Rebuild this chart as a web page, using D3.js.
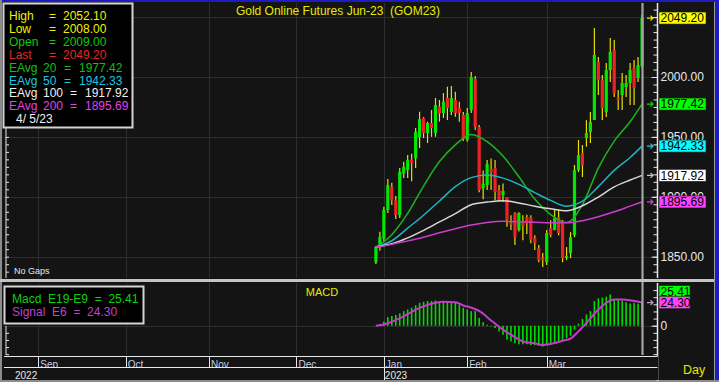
<!DOCTYPE html>
<html>
<head>
<meta charset="utf-8">
<script src="https://cdn.jsdelivr.net/npm/d3@7"></script>
<style>
	body { margin: 0; background: #141414; }
	svg { display: block; font-family: "Liberation Sans", Arial, sans-serif; }
</style>
</head>
<body>
<div id="chart"></div>
<script>
/*
=====================================================
=========	DATA	=========
=====================================================
*/

// trading-day number of the first bar (Sep 1 2022 = day 0)
var firstBarDay = 85;

// daily bars, Dec 29 2022 -> Apr 5 2023
var barOpen = [1845.3,1858.8,1865.2,1888.9,1908.4,1897.2,1884.7,1919.6,1922.3,1931,
	1932.1,1949.9,1965.7,1953.2,1961.6,1953.2,1975.2,1969.9,1982.5,1970.8,
	1980.8,1974.1,1968.3,1947.4,1972.4,1998.3,1958.2,1907,1909.8,1923,
	1924,1905.6,1901.4,1899.7,1878.4,1886.4,1872.2,1879.7,1883,1883,
	1865.5,1857.1,1848.8,1845.4,1873.9,1872.2,1883,1878,1848.8,1853,
	1868,1922.3,1936.5,1949,1954,1964.1,2012.5,1997.5,1970.8,2005.8,
	2022.6,1982.5,1985,1991.6,1995,2007.5,1999.2,2009];
var barHigh = [1859,1870.8,1891.6,1914.8,1911.7,1900.6,1924,1929.2,1934.8,1936,
	1957.4,1971,1966.5,1962.7,1972.4,1982.5,1980.8,1986.6,1991.9,1992.5,
	1987.7,1979.4,1970.8,1974.1,2004.2,2000.8,1959.9,1922,1930.7,1932,
	1930.7,1909.8,1911,1899.7,1884.7,1887,1887,1884.7,1885,1884.7,
	1868,1859.7,1853,1872.2,1880.5,1888.9,1888.9,1880.5,1858,1870.5,
	1926.5,1947.4,1943.2,1964,1970.8,2040.9,2016.7,2001.7,2011.7,2032.6,
	2030.9,1989.1,2003.3,2001.7,2011.7,2014.2,2016.7,2052.1];
var barLow = [1844,1854.9,1862.4,1886.4,1893.1,1881.4,1882.2,1915.6,1915.6,1913,
	1924,1940.7,1949,1944.9,1950.1,1950.1,1962.7,1965.8,1964.1,1968.3,
	1966.8,1962.7,1946.5,1945.9,1969.9,1955.7,1903.9,1898,1905.6,1905.6,
	1897.2,1896,1895.6,1875,1872.2,1859.7,1871,1863.8,1869,1861.3,
	1855.5,1845.4,1841.3,1843,1866.3,1872,1868,1845.4,1847.1,1848.8,
	1866.3,1920.6,1916.5,1941.8,1944.9,1964.1,1985,1964.1,1966.6,1995.8,
	1983.3,1972.4,1972.4,1983.3,1976.6,1976.6,1995.8,2008];
var barClose = [1858.2,1866.6,1888.9,1909.8,1897.2,1884.7,1920.9,1925.1,1930.7,1928,
	1954.3,1964.9,1953.2,1961.6,1957.4,1976.6,1969.7,1979.4,1974.1,1982.5,
	1969.9,1969.9,1948.2,1969.9,2000,1958.2,1905.6,1911,1927.3,1920.5,
	1904,1897.2,1904.8,1880.5,1876.9,1866.3,1886.4,1875.5,1878,1863.8,
	1861.3,1847.1,1847.1,1869.7,1868,1882.2,1869.7,1848.8,1850.5,1866.3,
	1922.3,1934.8,1926.5,1953.2,1962.4,2018.4,1997.5,1974.1,2005.8,2020.9,
	1986.6,1980.8,1995,1995,2005.8,1990.8,2010,2049.2];

// exponential averages (bar number -> value)
var emaBars = [0,4,8,12,16,20,24,28,32,36,40,44,48,52,56,60,64,67];
var ema20  = [1858,1868.4,1886.1,1908.9,1929.4,1943.4,1952.1,1946.1,1934,1916.7,1898.1,1885.2,1878.5,1893.5,1924,1946.5,1962.7,1977.42];
var ema50  = [1858,1863.3,1873.8,1884.6,1896.5,1908.5,1916,1918.1,1915.6,1910.4,1903.5,1897,1892.2,1896.4,1908.5,1922.1,1932.8,1942.33];
var ema100 = [1858,1860.8,1865.7,1872,1879,1885.9,1893.4,1895.6,1896.8,1894.9,1892.2,1890,1888.3,1892.5,1899.8,1908.3,1914,1917.92];
var ema200 = [1858,1860.3,1863.2,1866.2,1870,1873.4,1876.4,1878.6,1879.5,1879.2,1878.8,1878.3,1878.3,1880.1,1883.4,1887.5,1892.2,1895.69];

// MACD E19-E9, one value per bar
var macdValues = [0.3,1.5,4.5,9,10.2,11.3,13,15.3,17.1,18.9,
	21.5,24.2,25.2,25.9,25.9,26.6,25.9,25.9,25.9,25.2,
	24.1,22.4,18.8,17,15.3,15.3,8.2,3.6,1.1,-0.7,
	-2.5,-6,-9.5,-14.9,-16.6,-18.4,-19.5,-19.5,-19.5,-20.2,
	-20.5,-21.2,-21.9,-20.2,-20.2,-18.4,-16.6,-14.9,-13.1,-10.6,
	-4.2,2.2,7.2,11.8,15.3,25.9,28.8,29.5,30.5,33,
	27.7,27,25.9,24.8,23.4,23.8,23.2,25.41];

// Signal E6
var signalBars   = [0,2,7,11,15,17,20,22,24,26,29,32,35,37,40,42,45,47,49,51,53,56,58,60,62,65,67];
var signalValues = [0,1.3,9.9,18.8,24.1,25.2,24.8,21.3,19,15.5,5.5,-4.2,-12,-16.6,-18.6,-20.2,-18.2,-15.9,-13.5,-6,2.8,17,24.1,27.7,27.7,25.9,24.3];

var monthNames = ["Sep", "Oct", "Nov", "Dec", "Jan", "Feb", "Mar"];
var monthDays  = [0, 22, 43, 65, 87, 108, 128];
var yearNames  = ["2022", "2023"];
var yearDays   = [null, 87];
var priceTicks = [1850, 1900, 1950, 2000, 2050];
var lastDate = "4/ 5/23";

/*
=====================================================
=========	LAYOUT / SCALES	=========
=====================================================
*/

var	SVGwidth = 719,
	SVGheight = 382,
	mainTop = 3, mainBottom = 278,
	macdTop = 283, macdBottom = 355,
	plotLeft = 3, axisX = 657.5, cursorX = 642.5;

var fmt = d3.format(".2f");

var bars = barOpen.map(function(o, i) {
	return {day: firstBarDay + i, open: o, high: barHigh[i], low: barLow[i], close: barClose[i], macd: macdValues[i]};
});

var x = d3.scaleLinear()
	.domain([0, 128])
	.range([38.3, 546.7]);

var y = d3.scaleLinear()
	.domain([1850, 2000])
	.range([256.7, 77]);

var yMacd = d3.scaleLinear()
	.domain([0, 25.41])
	.range([325.7, 301.56]);

var svg = d3.select('div#chart')
	.append('svg')
	.attr('width', SVGwidth)
	.attr('height', SVGheight);

svg.append("rect").attr("width", SVGwidth).attr("height", SVGheight).attr("fill", "#141414");

// frame
svg.append("rect").attr("x", 0).attr("y", 0).attr("width", SVGwidth).attr("height", 2).attr("fill", "#1c1cc0");
svg.append("rect").attr("x", 715).attr("y", 0).attr("width", 4).attr("height", SVGheight).attr("fill", "#1c1cc0");
svg.append("rect").attr("x", 714).attr("y", 2).attr("width", 1).attr("height", SVGheight).attr("fill", "#9a9a9a");
svg.append("rect").attr("x", 0).attr("y", 0).attr("width", 2).attr("height", SVGheight).attr("fill", "#8c8c8c");
svg.append("rect").attr("x", 0).attr("y", 380).attr("width", SVGwidth).attr("height", 2).attr("fill", "#8c8c8c");

/*
=====================================================
=========	GRID	=========
=====================================================
*/

var grid = svg.append("g").attr("stroke", "#2e2e2e").attr("stroke-width", 1);

grid.selectAll("line.h").data(priceTicks).enter().append("line")
	.attr("x1", plotLeft).attr("x2", axisX)
	.attr("y1", function(d) { return Math.round(y(d)) + 0.5; })
	.attr("y2", function(d) { return Math.round(y(d)) + 0.5; });

grid.selectAll("line.v").data(monthDays).enter().append("line")
	.attr("x1", function(d) { return Math.round(x(d)) + 0.5; })
	.attr("x2", function(d) { return Math.round(x(d)) + 0.5; })
	.attr("y1", mainTop).attr("y2", mainBottom);

grid.selectAll("line.vm").data(monthDays).enter().append("line")
	.attr("x1", function(d) { return Math.round(x(d)) + 0.5; })
	.attr("x2", function(d) { return Math.round(x(d)) + 0.5; })
	.attr("y1", macdTop).attr("y2", macdBottom);

grid.append("line")
	.attr("x1", plotLeft).attr("x2", axisX)
	.attr("y1", Math.round(yMacd(0)) + 0.5).attr("y2", Math.round(yMacd(0)) + 0.5);

/*
=====================================================
=========	CANDLES + AVERAGES	=========
=====================================================
*/

var candles = svg.append("g");

candles.selectAll("line.wick")
	.data(bars)
	.enter()
	.append("line")
	.attr("x1", function(d) { return x(d.day); })
	.attr("x2", function(d) { return x(d.day); })
	.attr("y1", function(d) { return y(d.high); })
	.attr("y2", function(d) { return y(d.low); })
	.attr("stroke", "#e8e000")
	.attr("stroke-width", 1.2);

candles.selectAll("rect.body")
	.data(bars)
	.enter()
	.append("rect")
	.attr("x", function(d) { return x(d.day) - 1.6; })
	.attr("width", 3.2)
	.attr("y", function(d) { return y(Math.max(d.open, d.close)); })
	.attr("height", function(d) { return Math.max(1.5, Math.abs(y(d.open) - y(d.close))); })
	.attr("fill", function(d) { return d.close >= d.open ? "#00e800" : "#ee2222"; });

var emaLine = d3.line()
	.curve(d3.curveMonotoneX)
	.x(function(d) { return x(firstBarDay + d.bar); })
	.y(function(d) { return y(d.value); });

var emaSeries = [
	{values: ema20, color: "#1cb41c"},
	{values: ema50, color: "#1fb4c4"},
	{values: ema100, color: "#d8d8d8"},
	{values: ema200, color: "#cc3ccc"}
];

emaSeries.forEach(function(s) {
	var pts = s.values.map(function(v, i) { return {bar: emaBars[i], value: v}; });
	svg.append("path")
		.datum(pts)
		.attr("fill", "none")
		.attr("stroke", s.color)
		.attr("stroke-width", 1.5)
		.attr("d", emaLine);
});

/*
=====================================================
=========	MACD PANEL	=========
=====================================================
*/

svg.append("g").selectAll("line")
	.data(bars)
	.enter()
	.append("line")
	.attr("x1", function(d) { return x(d.day); })
	.attr("x2", function(d) { return x(d.day); })
	.attr("y1", yMacd(0))
	.attr("y2", function(d) { return yMacd(d.macd); })
	.attr("stroke", "#00dc00")
	.attr("stroke-width", 1.6);

var signalLine = d3.line()
	.curve(d3.curveMonotoneX)
	.x(function(d) { return x(firstBarDay + d.bar); })
	.y(function(d) { return yMacd(d.value); });

svg.append("path")
	.datum(signalValues.map(function(v, i) { return {bar: signalBars[i], value: v}; }))
	.attr("fill", "none")
	.attr("stroke", "#c23cc8")
	.attr("stroke-width", 2)
	.attr("d", signalLine);

// cursor
svg.append("line")
	.attr("x1", cursorX).attr("x2", cursorX)
	.attr("y1", mainTop).attr("y2", macdBottom)
	.attr("stroke", "#a4a4a4").attr("stroke-width", 2.2);

// panel separator
svg.append("rect").attr("x", 0).attr("y", 279).attr("width", 714).attr("height", 3).attr("fill", "#c4c4c4");

/*
=====================================================
=========	AXES	=========
=====================================================
*/

function styleAxis(sel) {
	sel.select(".domain").remove();
	sel.selectAll("line").attr("stroke", "#e8e8e8");
	sel.selectAll("text").attr("fill", "#e8e8e8").style("font-size", "12px").style("font-family", "Liberation Sans, Arial, sans-serif");
}

svg.append("line").attr("x1", axisX).attr("x2", axisX).attr("y1", mainTop).attr("y2", mainBottom).attr("stroke", "#e8e8e8").attr("stroke-width", 1.5);
svg.append("line").attr("x1", axisX).attr("x2", axisX).attr("y1", macdTop).attr("y2", 381).attr("stroke", "#e8e8e8").attr("stroke-width", 1.5);

svg.append("g")
	.attr("transform", "translate(" + axisX + ",0)")
	.call(d3.axisRight(y).tickValues(d3.range(1837.5, 2062, 6.25)).tickSize(-4).tickFormat(""))
	.call(styleAxis);

svg.append("g")
	.attr("transform", "translate(" + axisX + ",0)")
	.call(d3.axisRight(y).tickValues(priceTicks).tickSize(-6).tickPadding(3).tickFormat(fmt))
	.call(styleAxis);

svg.append("g")
	.attr("transform", "translate(" + axisX + ",0)")
	.call(d3.axisRight(yMacd).tickValues(d3.range(-30, 45, 7.5)).tickSize(-4).tickFormat(""))
	.call(styleAxis);

svg.append("g")
	.attr("transform", "translate(" + axisX + ",0)")
	.call(d3.axisRight(yMacd).tickValues([0]).tickSize(-6).tickPadding(3).tickFormat(d3.format("d")))
	.call(styleAxis);

// left tick columns
svg.append("line").attr("x1", 6).attr("x2", 6).attr("y1", 128).attr("y2", mainBottom).attr("stroke", "#e8e8e8");
svg.append("g")
	.attr("transform", "translate(6,0)")
	.call(d3.axisLeft(y).tickValues(d3.range(1837.5, 1953, 6.25)).tickSize(-3).tickFormat(""))
	.call(styleAxis);
svg.append("line").attr("x1", 6).attr("x2", 6).attr("y1", 326).attr("y2", macdBottom).attr("stroke", "#e8e8e8");
svg.append("g")
	.attr("transform", "translate(6,0)")
	.call(d3.axisLeft(yMacd).tickValues(d3.range(-30, 0, 7.5)).tickSize(-3).tickFormat(""))
	.call(styleAxis);

// bottom time axis
var timeAxis = svg.append("g");
timeAxis.append("rect").attr("x", 2).attr("y", 356).attr("width", 656).attr("height", 24).attr("fill", "#141414");
timeAxis.append("line").attr("x1", 4).attr("x2", axisX).attr("y1", 356.5).attr("y2", 356.5).attr("stroke", "#e8e8e8");
timeAxis.append("line").attr("x1", 4).attr("x2", axisX).attr("y1", 367.5).attr("y2", 367.5).attr("stroke", "#e8e8e8");

svg.append("clipPath").attr("id", "monthClip")
	.append("rect").attr("x", 0).attr("y", 357).attr("width", 660).attr("height", 10);

timeAxis.selectAll("line.mt").data(monthDays).enter().append("line")
	.attr("x1", function(d) { return Math.round(x(d)) + 0.5; })
	.attr("x2", function(d) { return Math.round(x(d)) + 0.5; })
	.attr("y1", 356).attr("y2", 367)
	.attr("stroke", "#e8e8e8");

timeAxis.append("g").attr("clip-path", "url(#monthClip)")
	.selectAll("text").data(monthNames).enter().append("text")
	.attr("x", function(d, i) { return x(monthDays[i]) + 2; })
	.attr("y", 367.5)
	.attr("fill", "#c6cee6")
	.style("font-size", "10px")
	.text(function(d) { return d; });

timeAxis.selectAll("line.yt").data(yearDays.filter(function(d) { return d !== null; })).enter().append("line")
	.attr("x1", function(d) { return Math.round(x(d)) + 0.5; })
	.attr("x2", function(d) { return Math.round(x(d)) + 0.5; })
	.attr("y1", 367).attr("y2", 380)
	.attr("stroke", "#e8e8e8");

timeAxis.selectAll("text.year").data(yearNames).enter().append("text")
	.attr("x", function(d, i) { return yearDays[i] === null ? 15 : x(yearDays[i]) + 1; })
	.attr("y", 378.5)
	.attr("fill", "#e8e8e8")
	.style("font-size", "10px")
	.text(function(d) { return d; });

svg.append("text").attr("x", 683).attr("y", 374).attr("fill", "#e8e800").style("font-size", "12.5px").text("Day");

/*
=====================================================
=========	BADGES	=========
=====================================================
*/

function badge(yPos, label, bg, width) {
	svg.append("rect")
		.attr("x", 659).attr("y", yPos - 6).attr("width", width).attr("height", 12)
		.attr("fill", bg).attr("stroke", "#202020").attr("stroke-width", 0.6);
	svg.append("text")
		.attr("x", 660.5).attr("y", yPos).attr("dy", "0.36em")
		.attr("fill", "#000").style("font-size", "12px")
		.text(label);
}

function arrow(yPos, color) {
	svg.append("path")
		.attr("d", "M647," + yPos + "H653M650.5," + (yPos - 2.5) + "L653," + yPos + "L650.5," + (yPos + 2.5))
		.attr("fill", "none").attr("stroke", color).attr("stroke-width", 1.2);
}

var lastClose = barClose[barClose.length - 1];
var priceBadges = [
	{v: lastClose, c: "#ffff00", a: "#e8e800"},
	{v: ema20[ema20.length - 1], c: "#00ff00", a: "#00e000"},
	{v: ema50[ema50.length - 1], c: "#00ffff", a: "#20d0e0"},
	{v: ema100[ema100.length - 1], c: "#ffffff", a: "#c8c8c8"},
	{v: ema200[ema200.length - 1], c: "#ff44ff", a: "#d040d0"}
];
priceBadges.forEach(function(b) {
	arrow(y(b.v), b.a);
	badge(y(b.v), fmt(b.v), b.c, 47);
});

var lastMacd = macdValues[macdValues.length - 1];
var lastSignal = signalValues[signalValues.length - 1];
arrow(yMacd(lastSignal), "#c0a0c0");
badge(Math.min(yMacd(lastMacd), yMacd(lastSignal) - 11), fmt(lastMacd), "#00ff00", 31);
badge(yMacd(lastSignal), fmt(lastSignal), "#ff44ff", 31);

/*
=====================================================
=========	TITLES + LEGENDS	=========
=====================================================
*/

svg.append("text")
	.attr("x", 440).attr("y", 15)
	.attr("text-anchor", "end")
	.attr("xml:space", "preserve")
	.attr("fill", "#e8e800")
	.style("font-size", "12px")
	.text("Gold Online Futures Jun-23  (GOM23)");

svg.append("text")
	.attr("x", 322).attr("y", 296)
	.attr("text-anchor", "middle")
	.attr("fill", "#e8e800")
	.style("font-size", "11px")
	.text("MACD");

svg.append("text")
	.attr("x", 14).attr("y", 274)
	.attr("fill", "#e8e8e8")
	.style("font-size", "9px")
	.text("No Gaps");

// price legend
svg.append("rect")
	.attr("x", 3.5).attr("y", 3.5).attr("width", 129).attr("height", 124)
	.attr("fill", "#000").attr("stroke", "#d4d4d4").attr("stroke-width", 2);

var legendRows = [
	{parts: [["High", 9], ["=", 49], [fmt(barHigh[barHigh.length - 1]), 63]], color: "#f0f000"},
	{parts: [["Low", 9], ["=", 49], [fmt(barLow[barLow.length - 1]), 63]], color: "#f0f000"},
	{parts: [["Open", 9], ["=", 49], [fmt(barOpen[barOpen.length - 1]), 63]], color: "#10c810"},
	{parts: [["Last", 9], ["=", 49], [fmt(lastClose), 63]], color: "#e02828"},
	{parts: [["EAvg", 9], ["20", 43], ["=", 64], [fmt(ema20[ema20.length - 1]), 79]], color: "#10c010"},
	{parts: [["EAvg", 9], ["50", 43], ["=", 64], [fmt(ema50[ema50.length - 1]), 79]], color: "#18c8e0"},
	{parts: [["EAvg", 9], ["100", 43], ["=", 70], [fmt(ema100[ema100.length - 1]), 85]], color: "#f0f0f0"},
	{parts: [["EAvg", 9], ["200", 43], ["=", 70], [fmt(ema200[ema200.length - 1]), 85]], color: "#e040e8"},
	{parts: [[lastDate, 16]], color: "#f0f0f0"}
];

legendRows.forEach(function(r, i) {
	var t = svg.append("text")
		.attr("y", 20 + i * 12.9)
		.attr("xml:space", "preserve")
		.attr("fill", r.color)
		.style("font-size", "12px");
	r.parts.forEach(function(p) {
		t.append("tspan").attr("x", p[1]).text(p[0]);
	});
});

// MACD legend
svg.append("rect")
	.attr("x", 4.5).attr("y", 286.5).attr("width", 139).attr("height", 37)
	.attr("fill", "#000").attr("stroke", "#d4d4d4").attr("stroke-width", 2);

svg.append("text").attr("x", 12).attr("y", 303).attr("xml:space", "preserve")
	.attr("fill", "#10d010").style("font-size", "12px")
	.text("Macd  E19-E9  =  " + fmt(lastMacd));
svg.append("text").attr("x", 12).attr("y", 316).attr("xml:space", "preserve")
	.attr("fill", "#c040d0").style("font-size", "12px")
	.text("Signal  E6  =  " + fmt(lastSignal));
</script>
</body>
</html>
